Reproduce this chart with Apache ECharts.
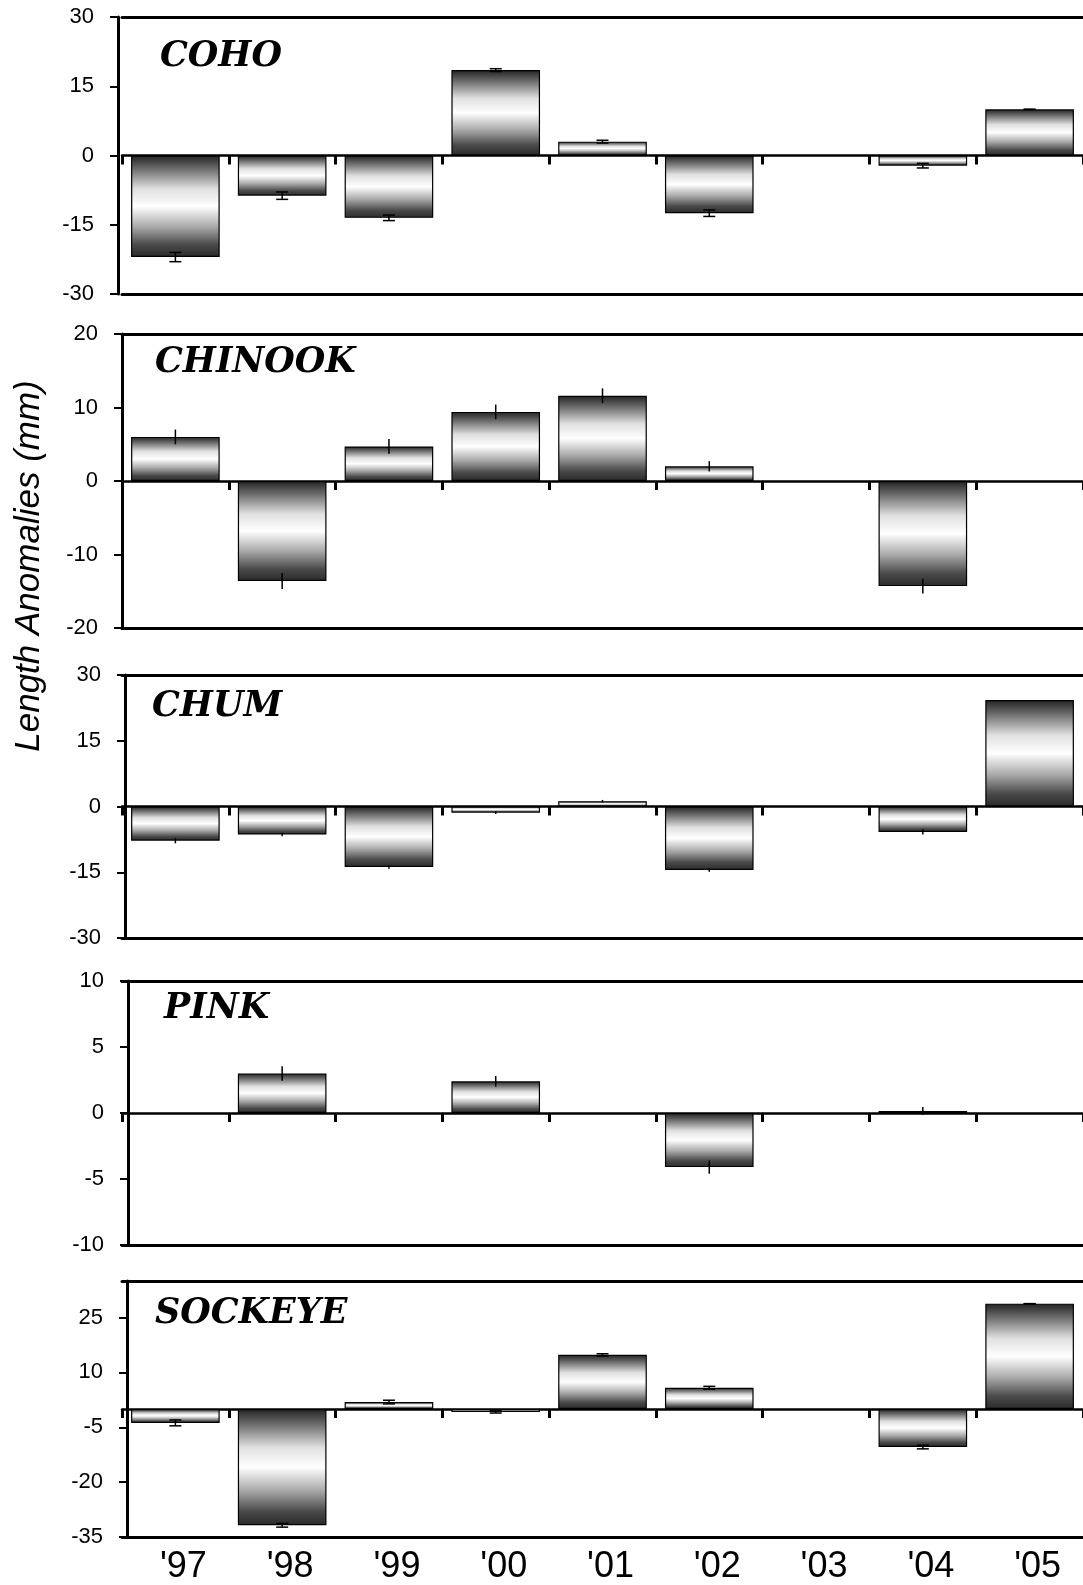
<!DOCTYPE html>
<html>
<head>
<meta charset="utf-8">
<title>Length anomalies</title>
<script src="https://cdn.jsdelivr.net/npm/echarts@6/dist/echarts.min.js"></script>
<style>
  html, body { margin: 0; padding: 0; background: #fff; }
  #chart { width: 1083px; height: 1585px; }
</style>
</head>
<body>
<div id="chart"></div>
<script>
// --- data ---
const categories = ["'97", "'98", "'99", "'00", "'01", "'02", "'03", "'04", "'05"];

const cohoValues = [-22, -8.7, -13.5, 18.5, 3, -12.5, null, -2.2, 10];
const cohoErrors = [1, 0.8, 0.6, 0.3, 0.3, 0.7, null, 0.5, 0];
const cohoTicks = [-30, -15, 0, 15, 30];

const chinookValues = [6, -13.6, 4.7, 9.4, 11.6, 2, null, -14.3, null];
const chinookErrors = [1, 1.1, 1, 1, 1, 0.7, null, 1, null];
const chinookTicks = [-20, -10, 0, 10, 20];

const chumValues = [-7.8, -6.4, -13.8, -1.4, 1.2, -14.5, null, -5.8, 24.3];
const chumErrors = [0.6, 0.4, 0.4, 0.3, 0.3, 0.4, null, 0.6, 0];
const chumTicks = [-30, -15, 0, 15, 30];

const pinkValues = [null, 3, null, 2.4, null, -4.1, null, 0.15, null];
const pinkErrors = [null, 0.55, null, 0.4, null, 0.5, null, 0.3, null];
const pinkTicks = [-10, -5, 0, 5, 10];

const sockeyeValues = [-3.8, -31.8, 1.9, -0.8, 14.8, 5.8, null, -10.4, 28.8];
const sockeyeErrors = [0.8, 0.5, 0.5, 0.3, 0.3, 0.4, null, 0.5, 0];
const sockeyeTicks = [-35, -20, -5, 10, 25];

// --- panel layout ---
const panels = [
    { name: 'COHO',    values: cohoValues,    errors: cohoErrors,    ticks: cohoTicks,    min: -30, max: 30, top: 17,   height: 277, axisShift: 4,  cap: 12, titleX: 160, titleY: 54 },
    { name: 'CHINOOK', values: chinookValues, errors: chinookErrors, ticks: chinookTicks, min: -20, max: 20, top: 334,  height: 294, axisShift: 0,  cap: 0,  titleX: 155, titleY: 360 },
    { name: 'CHUM',    values: chumValues,    errors: chumErrors,    ticks: chumTicks,    min: -30, max: 30, top: 675,  height: 263, axisShift: -3, cap: 0,  titleX: 152, titleY: 704 },
    { name: 'PINK',    values: pinkValues,    errors: pinkErrors,    ticks: pinkTicks,    min: -10, max: 10, top: 981,  height: 264, axisShift: -6, cap: 0,  titleX: 164, titleY: 1006 },
    { name: 'SOCKEYE', values: sockeyeValues, errors: sockeyeErrors, ticks: sockeyeTicks, min: -35, max: 35, top: 1281, height: 259, axisShift: -5, cap: 12, titleX: 155, titleY: 1311 }
];

const gridLeft = 122;
const gridWidth = 964;
const lineColor = '#000';

// 金属感渐变：上下深，中间白
function barGradient() {
    return new echarts.graphic.LinearGradient(0, 0, 0, 1, [
        { offset: 0, color: '#222222' },
        { offset: 0.12, color: '#666666' },
        { offset: 0.33, color: '#e0e0e0' },
        { offset: 0.5, color: '#ffffff' },
        { offset: 0.7, color: '#aaaaaa' },
        { offset: 0.88, color: '#4a4a4a' },
        { offset: 1, color: '#2a2a2a' }
    ]);
}

const grid = [];
const xAxis = [];
const yAxis = [];
const series = [];
const graphic = [];

panels.forEach((p, i) => {
    const isLast = i === panels.length - 1;
    grid.push({ left: gridLeft, width: gridWidth, top: p.top, height: p.height });

    // zero line with category ticks
    xAxis.push({
        type: 'category', gridIndex: i, data: categories, position: 'bottom',
        axisLine: { onZero: true, lineStyle: { color: lineColor, width: 2.5 } },
        axisTick: { show: true, inside: false, length: 9, lineStyle: { color: lineColor, width: 3 } },
        axisLabel: { show: false },
        splitLine: { show: false }
    });
    // bottom frame line (labels only on the last panel)
    xAxis.push({
        type: 'category', gridIndex: i, data: categories, position: 'bottom',
        axisLine: { onZero: false, lineStyle: { color: lineColor, width: 3 } },
        axisTick: { show: false },
        axisLabel: {
            show: isLast, color: '#000', fontSize: 36, margin: 12,
            padding: [0, 0, 0, 16],
            fontFamily: 'Liberation Sans, Arial, sans-serif'
        },
        splitLine: { show: false }
    });
    // top frame line
    xAxis.push({
        type: 'category', gridIndex: i, data: categories, position: 'top',
        axisLine: { onZero: false, lineStyle: { color: lineColor, width: 3 } },
        axisTick: { show: false },
        axisLabel: { show: false },
        splitLine: { show: false }
    });

    yAxis.push({
        type: 'value', gridIndex: i, min: p.min, max: p.max,
        offset: p.axisShift,
        axisLine: { show: true, onZero: false, lineStyle: { color: lineColor, width: 3 } },
        axisTick: { show: true, length: 8, customValues: p.ticks, lineStyle: { color: lineColor, width: 2 } },
        axisLabel: {
            customValues: p.ticks, color: '#000', fontSize: 22, margin: 24,
            fontFamily: 'Liberation Sans, Arial, sans-serif'
        },
        splitLine: { show: false }
    });

    series.push({
        type: 'bar', xAxisIndex: i * 3, yAxisIndex: i,
        data: p.values,
        barWidth: '83%',
        itemStyle: { color: barGradient(), borderColor: '#000', borderWidth: 1.2 },
        silent: true
    });

    const errData = [];
    p.values.forEach((v, k) => {
        if (v !== null && p.errors[k] !== null) {
            errData.push([k, v - p.errors[k], v + p.errors[k]]);
        }
    });
    const cap = p.cap;
    series.push({
        type: 'custom', xAxisIndex: i * 3, yAxisIndex: i,
        data: errData, z: 5, silent: true,
        renderItem: function (params, api) {
            const x = api.value(0);
            const lo = api.coord([x, api.value(1)]);
            const hi = api.coord([x, api.value(2)]);
            const style = { stroke: '#000', lineWidth: 1.5 };
            const children = [
                { type: 'line', shape: { x1: lo[0], y1: lo[1], x2: hi[0], y2: hi[1] }, style: style }
            ];
            if (cap > 0) {
                children.push({ type: 'line', shape: { x1: lo[0] - cap / 2, y1: lo[1], x2: lo[0] + cap / 2, y2: lo[1] }, style: style });
                children.push({ type: 'line', shape: { x1: hi[0] - cap / 2, y1: hi[1], x2: hi[0] + cap / 2, y2: hi[1] }, style: style });
            }
            return { type: 'group', children: children };
        }
    });

    graphic.push({
        type: 'text', left: p.titleX, top: p.titleY - 15, z: 10,
        style: {
            text: p.name, fill: '#000',
            font: 'italic bold 35px "DejaVu Serif", serif'
        }
    });
});

graphic.push({
    type: 'text', x: 29, y: 566, rotation: Math.PI / 2, z: 10,
    style: {
        text: 'Length Anomalies (mm)', fill: '#000',
        font: 'italic 35px "Liberation Sans", Arial, sans-serif',
        align: 'center', verticalAlign: 'middle'
    }
});

const chart = echarts.init(document.getElementById('chart'), null, { renderer: 'canvas' });
chart.setOption({
    animation: false,
    backgroundColor: '#fff',
    grid: grid,
    xAxis: xAxis,
    yAxis: yAxis,
    series: series,
    graphic: graphic
});
</script>
</body>
</html>
